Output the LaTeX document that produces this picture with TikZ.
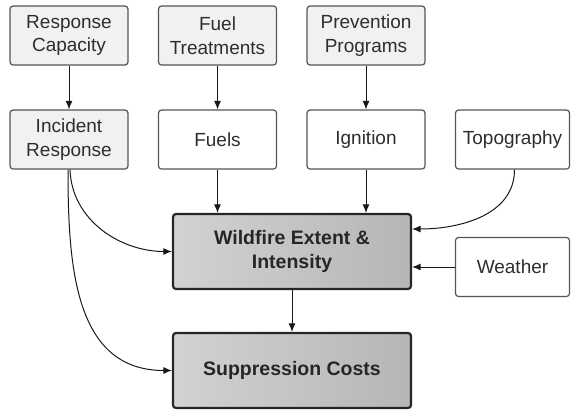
\documentclass[tikz,border=0pt]{standalone}
\usepackage{fontspec}
\setmainfont{Liberation Sans}
\usetikzlibrary{arrows.meta}
\definecolor{lightfill}{HTML}{F1F1F1}
\definecolor{boxline}{HTML}{555555}
\definecolor{txt}{HTML}{2E2E2E}
\definecolor{bigleft}{HTML}{D2D2D2}
\definecolor{bigright}{HTML}{B6B6B6}
\tikzset{
  basebox/.style={draw=boxline, line width=1.2pt, rounded corners=3pt, align=center,
    text=txt, font=\fontsize{19}{23.5}\selectfont, inner sep=0pt},
  smallbox/.style={basebox, minimum width=118pt, minimum height=59pt},
  greybox/.style={smallbox, fill=lightfill},
  whitebox/.style={smallbox, fill=white},
  bigbox/.style={basebox, draw=black!85, line width=2.2pt, left color=bigleft, right color=bigright,
    minimum width=238pt, minimum height=75pt, text=black!85, font=\fontsize{19.5}{24}\selectfont\bfseries},
  arr/.style={draw=black!90, line width=1pt, -{Latex[length=8.5pt,width=7pt]}}
}
\begin{document}
\begin{tikzpicture}[x=1pt,y=-1pt]
\useasboundingbox (0,0) rectangle (571,410);
\node[greybox] (rc) at (69,35.5) {Response\\Capacity};
\node[greybox] (ft) at (217.5,35.5) {Fuel\\Treatments};
\node[greybox] (pp) at (366,35.5) {Prevention\\Programs};
\node[greybox] (ir) at (69,139.5) {Incident\\Response};
\node[whitebox] (fu) at (217.5,139.5) {Fuels};
\node[whitebox] (ig) at (366,139.5) {Ignition};
\node[whitebox, minimum width=114pt] (tp) at (512.5,139.5) {Topography};
\node[bigbox] (wf) at (292,251.5) {Wildfire Extent \&\\Intensity};
\node[whitebox, minimum width=114pt] (we) at (512.5,267) {Weather};
\node[bigbox] (sc) at (292,370.5) {Suppression Costs};

\draw[arr] (rc.south) -- (ir.north);
\draw[arr] (ft.south) -- (fu.north);
\draw[arr] (pp.south) -- (ig.north);
\draw[arr] (fu.south) -- (fu.south |- wf.north);
\draw[arr] (ig.south) -- (ig.south |- wf.north);
\draw[arr] ([xshift=2pt]tp.south) to[out=-90,in=0] ([yshift=22.5pt]wf.east);
\draw[arr] (we.west) -- (we.west -| wf.east);
\draw[arr] ([xshift=1pt]ir.south) to[out=-88,in=180] (wf.west);
\draw[arr] ([xshift=-1pt]ir.south) to[out=-90,in=180,looseness=1.1] (sc.west);
\draw[arr] (wf.south) -- (sc.north);
\end{tikzpicture}
\end{document}
